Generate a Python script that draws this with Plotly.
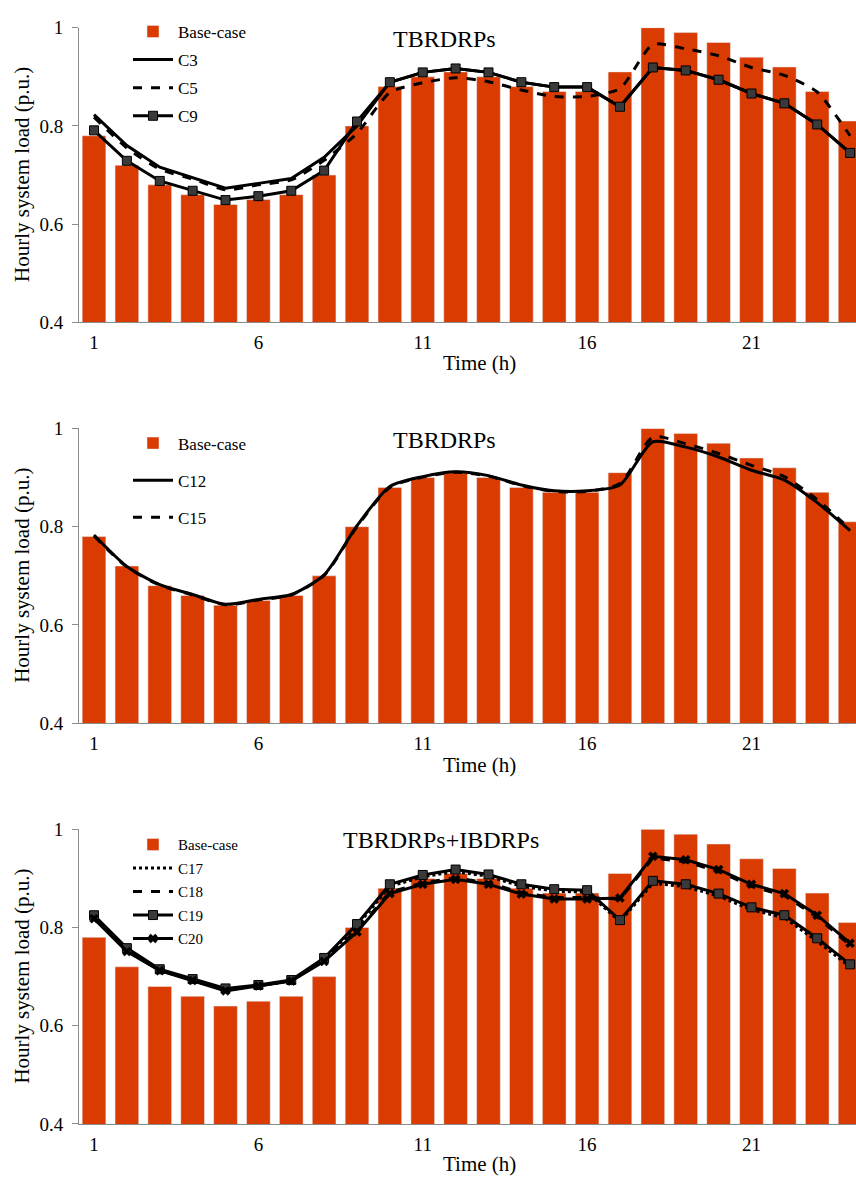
import plotly.graph_objects as go

W, H = 856, 1189

hours = list(range(1, 25))
x_ticks = [1, 6, 11, 16, 21]
y_ticks = [0.4, 0.6, 0.8, 1.0]
y_ticktext = ["0.4", "0.6", "0.8", "1"]

base_case = [0.78, 0.72, 0.68, 0.66, 0.64, 0.65, 0.66, 0.70, 0.80, 0.88, 0.90, 0.91,
             0.90, 0.88, 0.87, 0.87, 0.91, 1.00, 0.99, 0.97, 0.94, 0.92, 0.87, 0.81]

# Panel 1 (TBRDRPs)
c3 = [0.823, 0.760, 0.716, 0.695, 0.673, 0.683, 0.693, 0.736, 0.800, 0.889, 0.909, 0.917,
      0.909, 0.889, 0.879, 0.879, 0.839, 0.919, 0.913, 0.894, 0.866, 0.846, 0.803, 0.745]
c5 = [0.818, 0.755, 0.712, 0.692, 0.670, 0.680, 0.690, 0.730, 0.785, 0.868, 0.888, 0.898,
      0.890, 0.873, 0.860, 0.860, 0.876, 0.966, 0.957, 0.943, 0.919, 0.903, 0.869, 0.780]
c9 = [0.791, 0.729, 0.688, 0.668, 0.649, 0.657, 0.668, 0.709, 0.809, 0.889, 0.909, 0.917,
      0.909, 0.889, 0.879, 0.879, 0.839, 0.919, 0.913, 0.894, 0.866, 0.846, 0.803, 0.745]

# Panel 2 (TBRDRPs)
c12 = [0.783, 0.719, 0.682, 0.662, 0.642, 0.652, 0.662, 0.702, 0.802, 0.882, 0.902, 0.912,
       0.904, 0.885, 0.873, 0.873, 0.885, 0.973, 0.962, 0.942, 0.915, 0.895, 0.849, 0.792]
c15 = [0.781, 0.718, 0.681, 0.661, 0.641, 0.651, 0.661, 0.701, 0.800, 0.880, 0.901, 0.911,
       0.903, 0.884, 0.872, 0.872, 0.888, 0.982, 0.969, 0.949, 0.925, 0.902, 0.855, 0.795]

# Panel 3 (TBRDRPs+IBDRPs)
c17 = [0.822, 0.755, 0.713, 0.693, 0.673, 0.681, 0.691, 0.735, 0.803, 0.884, 0.903, 0.914,
       0.904, 0.884, 0.874, 0.872, 0.812, 0.890, 0.883, 0.864, 0.836, 0.820, 0.772, 0.720]
c18 = [0.820, 0.753, 0.713, 0.693, 0.672, 0.682, 0.692, 0.733, 0.795, 0.872, 0.891, 0.901,
       0.891, 0.871, 0.861, 0.861, 0.858, 0.941, 0.934, 0.914, 0.884, 0.865, 0.821, 0.764]
c19 = [0.825, 0.758, 0.715, 0.695, 0.676, 0.683, 0.693, 0.738, 0.807, 0.888, 0.907, 0.918,
       0.908, 0.888, 0.878, 0.876, 0.815, 0.895, 0.888, 0.869, 0.841, 0.825, 0.778, 0.725]
c20 = [0.818, 0.751, 0.712, 0.692, 0.671, 0.681, 0.691, 0.731, 0.791, 0.869, 0.888, 0.898,
       0.888, 0.868, 0.858, 0.858, 0.860, 0.945, 0.938, 0.918, 0.888, 0.869, 0.825, 0.768]

BAR = "#DA3B01"
FONT = "Liberation Serif"
AX = "#8c8c8c"

fig = go.Figure()


def py(p):
    return 1 - p / H


def fnt(size):
    return dict(family=FONT, size=size, color="black")


panels = [(18, 318), (426, 726), (834, 1134)]
x_sfx = ["x", "x2", "x3"]
y_sfx = ["y", "y2", "y3"]
leg = ["legend", "legend2", "legend3"]

for i in range(3):
    fig.add_trace(go.Bar(x=hours, y=base_case, name="Base-case", marker_color=BAR,
                         xaxis=x_sfx[i], yaxis=y_sfx[i], legend=leg[i],
                         legendgroup=f"b{i}"))

# Panel 1 lines
fig.add_trace(go.Scatter(x=hours, y=c3, name="C3", mode="lines",
                         line=dict(color="black", width=3), xaxis="x", yaxis="y",
                         legend="legend", legendgroup="c3"))
fig.add_trace(go.Scatter(x=hours, y=c5, name="C5", mode="lines",
                         line=dict(color="black", width=3, dash="dash", shape="spline", smoothing=0.6),
                         xaxis="x", yaxis="y", legend="legend", legendgroup="c5"))
fig.add_trace(go.Scatter(x=hours, y=c9, name="C9", mode="lines+markers",
                         line=dict(color="black", width=3),
                         marker=dict(symbol="square", size=9, color="#3a3a3a",
                                     line=dict(color="black", width=1)),
                         xaxis="x", yaxis="y", legend="legend", legendgroup="c9"))

# Panel 2 lines
fig.add_trace(go.Scatter(x=hours, y=c12, name="C12", mode="lines",
                         line=dict(color="black", width=3, shape="spline", smoothing=0.7),
                         xaxis="x2", yaxis="y2", legend="legend2", legendgroup="c12"))
fig.add_trace(go.Scatter(x=hours, y=c15, name="C15", mode="lines",
                         line=dict(color="black", width=3, dash="dash", shape="spline", smoothing=0.7),
                         xaxis="x2", yaxis="y2", legend="legend2", legendgroup="c15"))

# Panel 3 lines
fig.add_trace(go.Scatter(x=hours, y=c17, name="C17", mode="lines",
                         line=dict(color="black", width=3, dash="dot"),
                         xaxis="x3", yaxis="y3", legend="legend3", legendgroup="c17"))
fig.add_trace(go.Scatter(x=hours, y=c18, name="C18", mode="lines",
                         line=dict(color="black", width=3, dash="dash"),
                         xaxis="x3", yaxis="y3", legend="legend3", legendgroup="c18"))
fig.add_trace(go.Scatter(x=hours, y=c19, name="C19", mode="lines+markers",
                         line=dict(color="black", width=3),
                         marker=dict(symbol="square", size=9, color="#3a3a3a",
                                     line=dict(color="black", width=1)),
                         xaxis="x3", yaxis="y3", legend="legend3", legendgroup="c19"))
fig.add_trace(go.Scatter(x=hours, y=c20, name="C20", mode="lines+markers",
                         line=dict(color="black", width=3),
                         marker=dict(symbol="x", size=8, color="black",
                                     line=dict(color="black", width=0.5)),
                         xaxis="x3", yaxis="y3", legend="legend3", legendgroup="c20"))

layout = dict(
    width=W, height=H,
    margin=dict(l=0, r=0, t=0, b=0),
    paper_bgcolor="white", plot_bgcolor="white",
    font=fnt(19),
    bargap=0.28,
    showlegend=True,
)

x0 = 79 / W
for i, (top, bot) in enumerate(panels):
    xk = "xaxis" if i == 0 else f"xaxis{i+1}"
    yk = "yaxis" if i == 0 else f"yaxis{i+1}"
    layout[xk] = dict(domain=[x0, 1.0], range=[0.543, 24.18], tickvals=x_ticks,
                      showline=True, linecolor=AX, linewidth=1, ticks="",
                      ticklabelstandoff=3, showgrid=False, zeroline=False,
                      anchor=y_sfx[i], tickfont=fnt(19))
    layout[yk] = dict(domain=[py(bot), py(top)], range=[0.4, 1.0], tickvals=y_ticks,
                      ticktext=y_ticktext, showline=True, linecolor=AX, linewidth=1,
                      ticks="outside", ticklen=6, tickcolor=AX, showgrid=False,
                      zeroline=False, anchor=x_sfx[i], ticklabelstandoff=5,
                      tickfont=fnt(19))

layout["legend"] = dict(x=128 / W, y=py(4), xanchor="left", yanchor="top",
                        bgcolor="rgba(0,0,0,0)", font=fnt(17),
                        tracegroupgap=3, itemwidth=40)
layout["legend2"] = dict(x=128 / W, y=py(423), xanchor="left", yanchor="top",
                         bgcolor="rgba(0,0,0,0)", font=fnt(17),
                         tracegroupgap=12, itemwidth=40)
layout["legend3"] = dict(x=128 / W, y=py(833), xanchor="left", yanchor="top",
                         bgcolor="rgba(0,0,0,0)", font=fnt(15),
                         tracegroupgap=1, itemwidth=40)

fig.update_layout(**layout)

anns = []
titles = [("TBRDRPs", 444, 30), ("TBRDRPs", 444, 438), ("TBRDRPs+IBDRPs", 441, 845)]
for t, xp, yp in titles:
    anns.append(dict(text=t, x=xp / W, y=py(yp), xref="paper", yref="paper",
                     showarrow=False, font=fnt(24), xanchor="center", yanchor="middle"))
for (top, bot), ty in zip(panels, [359, 769, 1175]):
    anns.append(dict(text="Hourly system load (p.u.)", x=22 / W, y=py((top + bot) / 2),
                     xref="paper", yref="paper", showarrow=False, textangle=-90,
                     font=fnt(21), xanchor="center", yanchor="middle"))
    anns.append(dict(text="Time (h)", x=480 / W, y=py(ty), xref="paper", yref="paper",
                     showarrow=False, font=fnt(21), xanchor="center", yanchor="middle"))
fig.update_layout(annotations=anns)

fig.write_html("out.html")
